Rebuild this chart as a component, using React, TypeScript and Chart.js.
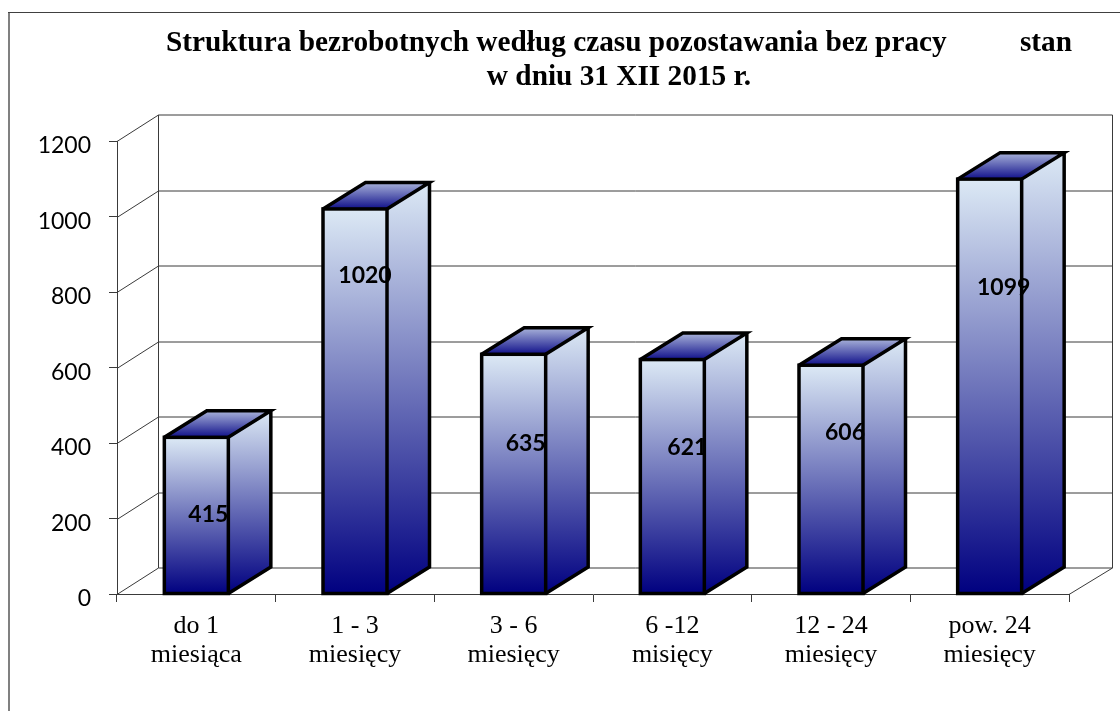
import React, { useEffect, useRef } from "react";
import { Chart, registerables } from "chart.js";

Chart.register(...registerables);

const titleLines = [
  "Struktura bezrobotnych według czasu pozostawania bez pracy          stan",
  "w dniu 31 XII 2015 r.",
];
const categories = [
  ["do 1", "miesiąca"],
  ["1 - 3", "miesięcy"],
  ["3 - 6", "miesięcy"],
  ["6 -12", "misięcy"],
  ["12 - 24", "miesięcy"],
  ["pow. 24", "miesięcy"],
];
const values = [415, 1020, 635, 621, 606, 1099];
// Where each value label sits: height on the value axis, shift from bar centre in px
const labelHeights = [215, 848, 404, 392, 432, 816];
const labelShifts = [12, 10, 12, 15, 14, 14];

const DEPTH_X = 42.5;
const DEPTH_Y = 26.5;
const WALL = "#3a3a3a";
const LIGHT = "#dce9f5";
const NAVY = "#000080";

const threeD = {
  id: "threeD",
  afterLayout(chart: any) {
    // the title is centred a little right of the page centre in the reference
    chart.titleBlock.left = 118;
    chart.titleBlock.right = 1120;
  },
  beforeDraw(chart: any) {
    const { ctx, width, height } = chart;
    ctx.save();
    ctx.fillStyle = "#ffffff";
    ctx.fillRect(0, 0, width, height);
    ctx.fillStyle = "#808080";
    ctx.fillRect(8, 12, 2, height - 12);
    ctx.fillStyle = "#404040";
    ctx.fillRect(8, 12, width - 8, 1);
    ctx.restore();
  },
  beforeDatasetsDraw(chart: any) {
    const { ctx, chartArea: a, scales } = chart;
    const y = scales.y;
    ctx.save();
    ctx.strokeStyle = WALL;
    ctx.lineWidth = 1;
    const line = (x1: number, y1: number, x2: number, y2: number) => {
      ctx.beginPath();
      ctx.moveTo(x1, y1);
      ctx.lineTo(x2, y2);
      ctx.stroke();
    };
    const bx = Math.floor(a.left + DEPTH_X) + 0.5 - 1;
    const rx = Math.round(a.right + DEPTH_X) + 0.5;
    y.ticks.forEach((t: any) => {
      const py = Math.round(y.getPixelForValue(t.value)) + 0.5;
      line(a.left, py, bx, py - DEPTH_Y);
      line(bx, py - DEPTH_Y, rx, py - DEPTH_Y);
    });
    const top = Math.round(a.top) + 0.5 - DEPTH_Y;
    const bot = Math.round(a.bottom) + 0.5 - DEPTH_Y;
    line(bx, top, bx, bot);
    line(rx, top, rx, bot);
    line(a.right, a.bottom + 0.5, rx, bot);

    // side and top faces of each bar
    chart.getDatasetMeta(0).data.forEach((el: any) => {
      const r = el.x + el.width / 2;
      const l = el.x - el.width / 2;
      const side = ctx.createLinearGradient(0, el.y - DEPTH_Y, 0, el.base);
      side.addColorStop(0, LIGHT);
      side.addColorStop(1, NAVY);
      ctx.fillStyle = side;
      ctx.beginPath();
      ctx.moveTo(r, el.y);
      ctx.lineTo(r + DEPTH_X, el.y - DEPTH_Y);
      ctx.lineTo(r + DEPTH_X, el.base - DEPTH_Y);
      ctx.lineTo(r, el.base);
      ctx.closePath();
      ctx.fill();
      const cap = ctx.createLinearGradient(0, el.y - DEPTH_Y, 0, el.y);
      cap.addColorStop(0, "#a9b3da");
      cap.addColorStop(1, "#10108a");
      ctx.fillStyle = cap;
      ctx.beginPath();
      ctx.moveTo(l, el.y);
      ctx.lineTo(l + DEPTH_X, el.y - DEPTH_Y);
      ctx.lineTo(r + DEPTH_X, el.y - DEPTH_Y);
      ctx.lineTo(r, el.y);
      ctx.closePath();
      ctx.fill();
    });
    ctx.restore();
  },
  afterDatasetsDraw(chart: any) {
    const { ctx, scales } = chart;
    ctx.save();
    ctx.strokeStyle = "#000000";
    ctx.lineWidth = 3.5;
    ctx.lineJoin = "miter";
    chart.getDatasetMeta(0).data.forEach((el: any) => {
      const r = el.x + el.width / 2;
      const l = el.x - el.width / 2;
      ctx.strokeRect(l, el.y, el.width, el.base - el.y);
      ctx.beginPath();
      ctx.moveTo(l, el.y);
      ctx.lineTo(l + DEPTH_X, el.y - DEPTH_Y);
      ctx.lineTo(r + DEPTH_X, el.y - DEPTH_Y);
      ctx.lineTo(r, el.y);
      ctx.moveTo(r + DEPTH_X, el.y - DEPTH_Y);
      ctx.lineTo(r + DEPTH_X, el.base - DEPTH_Y);
      ctx.lineTo(r, el.base);
      ctx.stroke();
    });
    ctx.fillStyle = "#000000";
    ctx.font = "bold 23px Lato";
    ctx.textAlign = "center";
    ctx.textBaseline = "middle";
    chart.getDatasetMeta(0).data.forEach((el: any, i: number) => {
      ctx.fillText(
        String(values[i]),
        el.x + labelShifts[i],
        scales.y.getPixelForValue(labelHeights[i]) + 2
      );
    });
    ctx.restore();
  },
};

export default function App() {
  const ref = useRef<HTMLCanvasElement>(null);
  useEffect(() => {
    const chart = new Chart(ref.current as HTMLCanvasElement, {
      type: "bar",
      data: {
        labels: categories,
        datasets: [
          {
            data: values,
            barThickness: 64,
            borderWidth: 0,
            backgroundColor: (c: any) => {
              const ch = c.chart;
              if (!ch.chartArea || c.raw === undefined) return NAVY;
              const g = ch.ctx.createLinearGradient(
                0,
                ch.scales.y.getPixelForValue(c.raw),
                0,
                ch.scales.y.getPixelForValue(0)
              );
              g.addColorStop(0, LIGHT);
              g.addColorStop(1, NAVY);
              return g;
            },
          },
        ],
      },
      options: {
        responsive: false,
        animation: false,
        layout: { autoPadding: false, padding: { left: 0, right: 51, top: 0, bottom: 0 } },
        plugins: {
          legend: { display: false },
          tooltip: { enabled: false },
          title: {
            display: true,
            text: titleLines,
            color: "#000000",
            font: { family: "'Liberation Serif'", size: 29.3, weight: "bold", lineHeight: 34 / 29.3 },
            padding: { top: 26.5, bottom: 46.5 },
          },
        },
        scales: {
          x: {
            afterFit: (s: any) => {
              s.height = 117;
            },
            border: { color: WALL, width: 1 },
            grid: { drawOnChartArea: false, drawTicks: true, tickLength: 8, color: WALL, offset: true },
            ticks: {
              color: "#000000",
              padding: 10,
              maxRotation: 0,
              autoSkip: false,
              font: { family: "'Liberation Serif'", size: 26, lineHeight: 29 / 26 },
            },
          },
          y: {
            min: 0,
            max: 1200,
            afterFit: (s: any) => {
              s.width = 117;
            },
            border: { color: WALL, width: 1 },
            grid: { drawOnChartArea: false, drawTicks: true, tickLength: 8, color: WALL },
            ticks: {
              stepSize: 200,
              color: "#000000",
              padding: 18,
              labelOffset: 5,
              font: { family: "Lato", size: 23 },
              callback: (v: any) => String(v),
            },
          },
        },
      },
      plugins: [threeD],
    } as any);
    return () => chart.destroy();
  }, []);
  return (
    <canvas
      ref={ref}
      width={1120}
      height={711}
      style={{ position: "fixed", left: 0, top: 0, display: "block" }}
    />
  );
}
